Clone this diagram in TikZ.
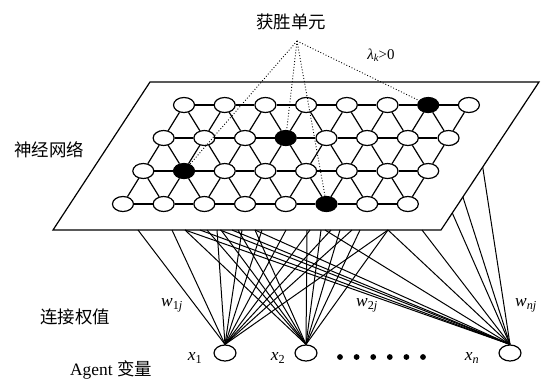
\documentclass[tikz,border=0pt]{standalone}
\usepackage{fontspec}
\setmainfont{Liberation Serif}
\newfontfamily\cjk{Noto Sans CJK SC}
\usetikzlibrary{shapes.geometric}
\begin{document}
\begin{tikzpicture}[x=1bp,y=-1bp,
  cell/.style={ellipse,draw,line width=1.2bp,fill=white,minimum width=21bp,minimum height=15bp,inner sep=0pt},
  win/.style={cell,fill=black},
  agent/.style={ellipse,draw,line width=1.2bp,fill=white,minimum width=22bp,minimum height=16bp,inner sep=0pt},
  link/.style={line width=1bp},
  gridline/.style={line width=1.2bp},
  winline/.style={dotted,line width=0.9bp},
  cn/.style={font=\cjk\fontsize{17.5}{17.5}\selectfont,inner sep=0pt},
  lab/.style={font=\fontsize{17.5}{17.5}\selectfont,inner sep=0pt},
  dotmark/.style={circle,fill=black,minimum size=5.8bp,inner sep=0pt}
]
\useasboundingbox (0,0) rectangle (541,380);
% plane
\coordinate (pBL) at (53,230);
\coordinate (pBR) at (441,230);
\coordinate (pTR) at (539,82);
\coordinate (pTL) at (150,82);
\draw[gridline,line join=miter] (pBL) -- (pBR) -- (pTR) -- (pTL) -- cycle;
% lattice nodes
\foreach \r/\b in {0/6,1/3,2/1,3/5}{
  \foreach \i in {0,...,7}{
    \ifnum\i=\b\relax\def\st{win}\else\def\st{cell}\fi
    \node[\st] (n-\r-\i) at ({184-20.35*\r+40.7*\i},{105+33*\r}) {};
  }
}
% horizontal edges
\foreach \r in {0,...,3}{
  \foreach \i [evaluate=\i as \j using int(\i+1)] in {0,...,6}{
    \draw[gridline] (n-\r-\i) -- (n-\r-\j);
  }
}
% diagonal edges
\foreach \r [evaluate=\r as \s using int(\r+1)] in {0,1,2}{
  \foreach \i in {0,...,7}{
    \draw[gridline] (n-\r-\i) -- (n-\s-\i);
  }
  \foreach \i [evaluate=\i as \j using int(\i+1)] in {0,...,6}{
    \draw[gridline] (n-\r-\i) -- (n-\s-\j);
  }
}
% winners
\coordinate (apex) at (297,41);
\draw[winline] (apex) -- (n-0-6);
\draw[winline] (apex) -- (n-1-3);
\draw[winline] (apex) -- (n-2-1);
\draw[winline] (apex) -- (n-3-5);
% agents
\node[agent] (x1) at (225,353) {};
\node[agent] (x2) at (306,353) {};
\node[agent] (xn) at (510,353) {};
% link start points
\foreach \b in {138,172,185,200,207,217,220,221,232,238,242,255,262,286,307,310,321,325,331,340,352,360,388,422}{
  \coordinate (b\b) at (\b,230);
}
\coordinate (r1) at (452.3,213);
\coordinate (r2) at (462.9,197);
\coordinate (r3) at (482.7,167);
\foreach \b in {138,172,217,242,262,286,310,331,352,388}{
  \draw[link] (b\b) -- (x1.north);
}
\foreach \b in {185,207,221,238,255,307,321,340,360,388}{
  \draw[link] (b\b) -- (x2.north);
}
\foreach \b in {185,200,220,232,255,325,388,422}{
  \draw[link] (b\b) -- (xn.north);
}
\foreach \b in {r1,r2,r3}{
  \draw[link] (\b) -- (xn.north);
}
% dots
\foreach \k in {0,...,5}{
  \node[dotmark] (d\k) at ({340+16.6*\k},357) {};
}
% labels
\node[cn] (title) at (291,22) {获胜单元};
\node[lab,font=\fontsize{15}{15}\selectfont] (lam) at (381,55) {\textit{λ}\textsubscript{\textit{k}}\kern-0.5pt>0};
\node[cn] (nn) at (49,150) {神经网络};
\node[cn] (lw) at (75,317) {连接权值};
\node[lab] (ag) at (111,370) {Agent {\cjk 变量}};
\node[lab] (w1) at (172,305) {\textit{w}\textsubscript{1\textit{j}}};
\node[lab] (w2) at (367,305) {\textit{w}\textsubscript{2\textit{j}}};
\node[lab] (wn) at (526,305) {\textit{w}\textsubscript{\textit{nj}}};
\node[lab] (l1) at (195,358) {\textit{x}\textsubscript{1}};
\node[lab] (l2) at (278,358) {\textit{x}\textsubscript{2}};
\node[lab] (ln) at (472,358) {\textit{x}\textsubscript{\textit{n}}};
\end{tikzpicture}
\end{document}
